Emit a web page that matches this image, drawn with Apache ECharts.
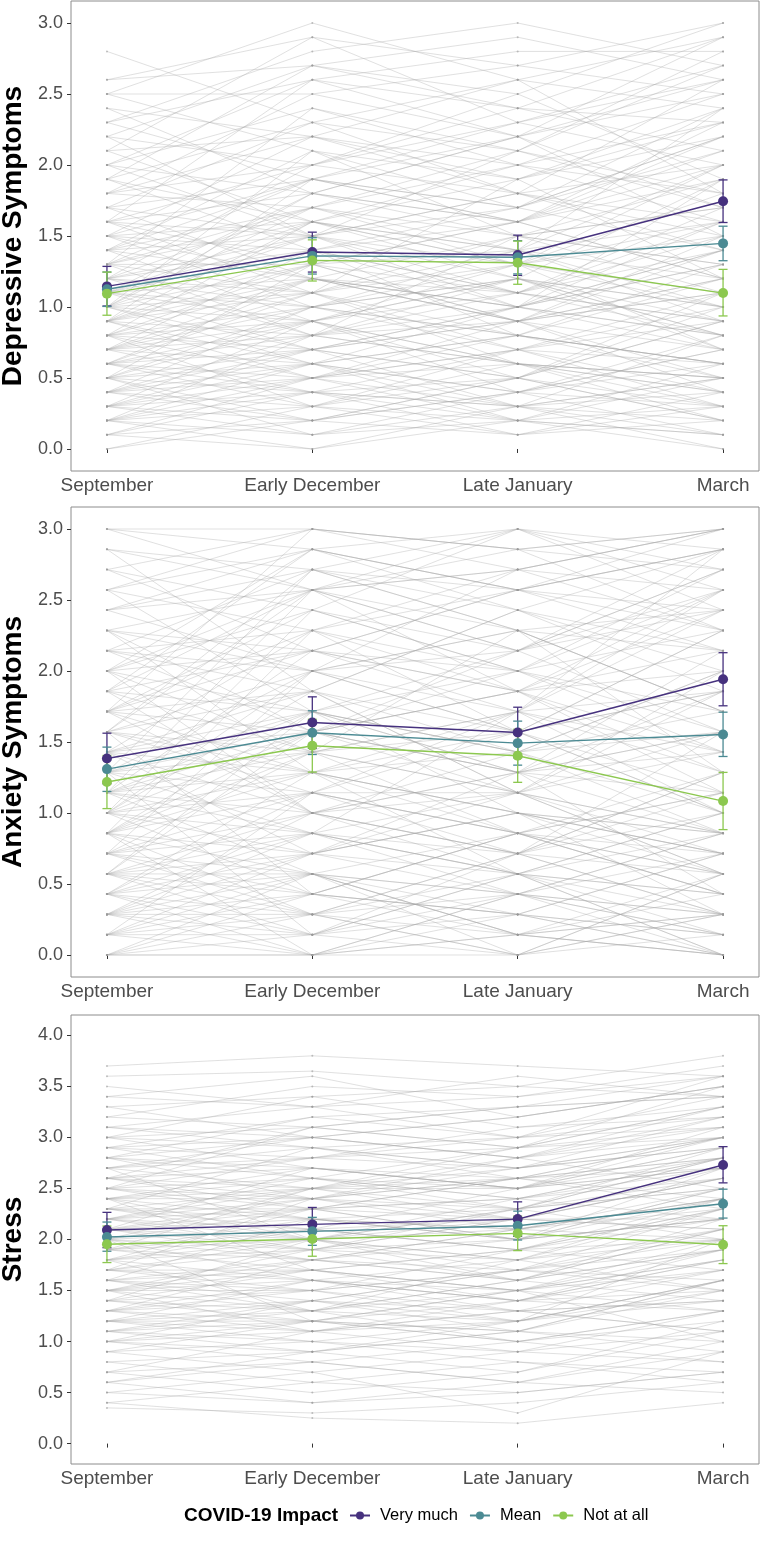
<!DOCTYPE html>
<html>
<head>
<meta charset="utf-8">
<script src="https://cdn.jsdelivr.net/npm/echarts@6/dist/echarts.min.js"></script>
<style>
html,body{margin:0;padding:0;background:#fff;}
#chart{width:760px;height:1555px;}
</style>
</head>
<body>
<div id="chart"></div>
<script>
// ---------------- DATA ----------------
const timeLabels = ['September', 'Early December', 'Late January', 'March'];
const timePos = [1, 2, 3, 4];
const groups = ['Very much', 'Mean', 'Not at all'];
const symptomTicks = [0, 0.5, 1, 1.5, 2, 2.5, 3];
const stressTicks = [0, 0.5, 1, 1.5, 2, 2.5, 3, 3.5, 4];

// individual trajectories (Sep, Dec, Jan, Mar)
const depIndividuals = [
[0.0,0.3,0.1,0.2],[0.1,0.0,0.2,0.1],[0.1,0.4,0.3,0.5],[0.2,0.1,0.4,0.3],[0.2,0.5,0.6,0.2],
[0.3,0.2,0.1,0.4],[0.3,0.7,0.5,0.9],[0.3,0.6,0.8,0.6],[0.4,0.3,0.2,0.1],[0.4,0.8,0.6,0.5],
[0.4,1.0,1.2,0.8],[0.5,0.4,0.7,0.3],[0.5,0.9,0.5,1.1],[0.5,0.2,0.4,0.7],[0.6,0.5,0.9,0.4],
[0.6,1.1,0.8,1.3],[0.6,0.3,0.6,0.5],[0.7,1.4,1.1,0.9],[0.7,0.6,0.4,0.8],[0.7,0.9,1.3,1.6],
[0.8,0.5,0.7,0.6],[0.8,1.2,1.0,1.4],[0.8,1.6,1.9,1.2],[0.8,0.7,0.3,0.5],[0.9,1.3,0.9,0.7],
[0.9,0.8,1.5,1.9],[0.9,1.9,1.6,2.1],[1.0,1.5,1.2,1.0],[1.0,0.7,0.9,1.2],[1.0,2.1,1.7,2.4],
[1.0,1.3,1.4,0.9],[1.1,0.9,1.1,1.5],[1.1,1.8,2.2,1.7],[1.1,1.4,0.8,0.6],[1.2,1.0,1.3,1.8],
[1.2,2.0,1.8,2.6],[1.2,0.8,0.6,0.4],[1.3,1.7,1.5,1.1],[1.3,1.1,1.9,2.2],[1.3,2.4,2.0,1.6],
[1.4,1.2,1.0,1.3],[1.4,1.9,2.3,2.7],[1.4,0.9,1.2,0.8],[1.5,1.6,1.4,2.0],[1.5,2.2,2.6,1.8],
[1.5,1.0,0.7,1.1],[1.6,1.8,1.6,2.3],[1.6,1.3,1.1,0.9],[1.6,2.6,2.4,2.9],[1.7,1.5,2.1,1.7],
[1.7,2.3,1.8,1.4],[1.8,1.7,1.3,2.0],[1.8,2.5,2.7,2.5],[1.9,1.4,1.6,1.2],[1.9,2.7,2.5,3.0],
[2.0,1.8,2.2,1.5],[2.0,2.6,2.8,2.8],[2.1,1.6,1.4,2.4],[2.1,2.9,2.3,2.6],[2.2,2.0,2.5,1.9],
[2.2,1.5,1.0,1.3],[2.3,2.8,3.0,2.7],[2.3,1.9,1.7,2.2],[2.4,2.2,2.0,2.5],[2.5,3.0,2.6,2.9],
[2.5,2.1,1.5,1.7],[2.6,2.7,2.9,2.6],[2.8,2.3,2.1,2.8],[0.2,0.0,0.3,0.0],[0.5,0.6,0.2,0.3],
[0.6,0.8,1.0,0.7],[0.7,0.4,0.5,0.2],[0.9,1.1,0.7,1.0],[1.0,0.6,1.0,1.4],[1.1,1.5,1.8,1.5],
[1.2,1.4,1.7,2.1],[0.3,0.9,0.4,0.6],[0.4,0.2,0.5,0.9],[0.8,1.0,1.4,1.0],[1.3,1.6,1.2,1.9],
[1.5,1.2,0.9,0.5],[0.6,1.2,1.1,1.6],[0.9,0.5,0.3,0.4],[1.4,2.1,1.9,2.3],[1.8,2.0,2.4,2.1],
[0.2,0.8,0.9,1.4],[1.6,1.1,1.3,0.7],[0.5,1.3,1.6,1.2],[1.0,1.7,2.1,1.8],[0.7,1.1,0.6,0.3],
[0.1,0.2,0.5,0.3],[0.2,0.6,0.3,0.1],[0.3,0.1,0.2,0.0],[0.4,0.7,0.9,1.1],[0.5,1.0,0.8,0.6],
[0.6,0.4,0.3,0.8],[0.7,1.2,1.5,1.3],[0.8,0.3,0.5,0.2],[0.9,1.4,1.1,1.7],[1.0,0.9,0.6,0.5],
[1.1,1.6,1.3,1.0],[1.2,1.7,2.0,2.3],[1.3,0.8,1.1,1.4],[1.4,1.5,1.8,1.6],[1.5,1.9,1.6,2.2],
[1.6,2.0,2.3,2.0],[1.7,1.2,0.9,1.5],[1.8,2.2,1.9,2.4],[1.9,1.6,2.0,1.8],[2.0,2.4,2.1,2.7],
[2.1,2.2,1.8,2.0],[2.2,2.7,2.4,2.3],[2.4,1.8,1.6,1.9],[2.5,2.5,2.2,2.6],[2.6,2.9,2.7,3.0],
[0.0,0.2,0.4,0.1],[0.1,0.5,0.2,0.6],[0.2,0.3,0.7,0.4],[0.3,0.4,0.1,0.3],[0.4,0.6,0.4,0.7],
[0.5,0.7,1.0,0.8],[0.6,0.9,0.6,0.4],[0.7,0.8,1.2,1.0],[0.8,1.3,0.9,1.1],[0.9,0.6,0.8,0.6],
[1.0,1.1,1.5,1.7],[1.1,1.2,0.9,1.2],[1.2,1.5,1.1,0.8],[1.3,1.3,1.6,2.0],[1.4,1.7,1.4,1.2],
[0.2,0.4,0.2,0.5],[0.3,0.5,0.7,0.9],[0.5,0.1,0.3,0.2],[0.7,1.0,0.8,1.2],[0.9,1.6,1.3,1.5],
[1.1,1.0,1.2,0.7],[1.3,1.9,2.2,2.5],[1.5,1.4,1.0,1.6],[1.7,1.9,1.7,2.2],[1.9,2.3,2.6,2.4],
[2.0,1.5,1.3,1.1],[2.3,2.6,2.2,2.9],[0.4,0.5,0.8,0.5],[0.6,0.7,0.5,1.0],[0.8,0.9,1.2,0.9],
[1.0,1.8,1.5,1.3],[1.2,1.1,1.4,1.6],[1.6,1.5,1.7,1.4],[0.9,1.2,1.0,0.8],[1.1,0.7,1.0,1.9]
];
const anxIndividuals = [
[0,0,0.143,0],[0,0.286,0,0.143],[0,0.571,0.286,0],[0.143,0,0.429,0.286],[0.143,0.714,0.571,0.429],
[0.286,0.143,0,0.571],[0.286,1,0.714,0.286],[0.286,0.429,0.857,1.143],[0.429,0.286,0.143,0],[0.429,1.286,1,0.714],
[0.571,0.571,0.429,0.857],[0.571,1.571,1.286,0.429],[0.571,0.143,0.571,1],[0.714,0.857,1.143,0.571],[0.714,2,1.571,2.286],
[0.714,0.429,0.286,0.143],[0.857,1.143,0.857,1.286],[0.857,0.286,0.714,0.286],[0.857,1.714,2.143,1.571],[1,0.714,1,0.714],
[1,1.857,1.429,2],[1,1.286,0.571,0],[1,2.429,2,2.714],[1.143,1,1.286,1.429],[1.143,0.571,0.143,0.571],
[1.143,2.143,2.571,3],[1.286,1.429,1.143,0.857],[1.286,0.857,1.714,1.857],[1.286,2.714,2.286,1.714],[1.429,1.571,1.857,2.143],
[1.429,0.714,0.429,0.286],[1.429,2.286,2.714,2.571],[1.571,1.143,1.571,1.143],[1.571,2.571,1.857,2.429],[1.571,0.429,0.857,0.714],
[1.714,1.857,2.429,2.857],[1.714,1.286,1,0.571],[1.714,3,2.857,2.286],[1.857,1.714,1.286,1.571],[1.857,2.143,2,2.571],
[2,1.429,1.714,1],[2,2.857,3,2.714],[2,1,0.714,1.286],[2.143,2.286,1.571,1.857],[2.143,1.571,2.143,2.429],
[2.286,2.571,2.857,3],[2.286,1.286,0.857,0.429],[2.429,2,2.286,1.714],[2.429,2.857,2.571,2.286],[2.571,1.714,1.429,2],
[2.571,3,2.714,3],[2.714,2.429,2,1.571],[2.714,2.143,2.571,2.857],[2.857,2.714,3,2.571],[2.857,1.857,1.143,0.857],
[3,2.571,2.143,2.714],[3,3,2.857,3],[0.143,0.429,0.286,0.714],[0.286,0.714,1.143,0.571],[0.429,0,0.286,0.143],
[0.571,1,1.429,1.714],[0.714,1.429,0.857,0.429],[0.857,0.571,0,0.286],[1,1.571,1.857,1.143],[1.143,1.714,1.286,2.143],
[1.286,2,1.571,1],[0,0.143,0.571,0.857],[0.143,1.143,0.714,1.286],[0.429,0.857,0.571,0],[0.571,0.286,0.714,0.571],
[0.714,1.143,1.714,1.429],[0.857,2.286,1.857,2.571],[1,0.429,0.286,0.714],[1.143,1.286,1,0.286],[1.286,0.143,0.429,0],
[1.429,1,1.286,1.571],[1.571,2.714,2.429,1.857],[1.714,2.429,3,2.429],[1.857,1,0.571,0.143],[2,2.143,1.714,2.857],
[0.286,0,0.143,0.429],[0.857,1.429,2.286,1.286],[1.571,1.857,1.143,0.714],[2.143,2.714,2.286,2.143],[0.429,0.714,1,0.857],
[0,0.429,0.143,0.286],[0.143,0.286,0,0.571],[0.286,0.571,0.429,0.143],[0.429,0.143,0.714,1],[0.571,0.857,0.571,0.286],
[0.714,0.286,0.429,0.857],[0.857,1.286,1.571,1],[1,0.857,0.714,1.571],[1.143,1.571,2,1.714],[1.286,1.143,0.857,0.571],
[1.429,1.857,1.571,2.286],[1.571,1.286,1.714,1.286],[1.714,2.143,1.857,2],[1.857,1.429,1.571,1.857],[2,2.571,2.286,2.429],
[2.143,1.857,2.429,2],[2.286,2.143,1.857,1.429],[2.429,2.714,2.571,2.857],[2.571,2.286,2,2.286],[2.714,3,2.857,2.714],
[0,0,0,0.286],[0.143,0.143,0.286,0],[0.286,0.286,0.571,0.429],[0.429,0.571,0.143,0.286],[0.571,0.714,1,0.714],
[0.714,1,0.714,1.143],[0.857,0.714,1.286,0.857],[1,1.143,1.143,1.857],[1.143,0.857,0.429,0.714],[1.286,1.714,2,1.429],
[1.429,1.286,1.429,1],[1.571,2,2.143,2.714],[1.714,1.571,1.286,1.857],[1.857,2.571,2.714,2.286],[2,1.714,1.429,1.571],
[0.286,0.857,0.571,1],[0.571,0.429,0.857,0.429],[0.857,1.571,1.143,1.571],[1.143,1.429,1.714,2.429],[1.429,1.714,1,0.857],
[1.714,2.286,2.571,2.143],[2,2.429,2.143,2.571],[2.286,2,2.714,3],[2.571,2.857,2.429,2.143],[0.143,0.571,0.857,0.571],
[0.429,1.143,0.857,1.143],[0.714,0.571,0.143,0],[1,2,2.286,1.714],[1.286,1.571,1.857,1.286],[1.571,1.429,1.143,2],
[1.857,2.857,2.571,2.429],[2.143,2,1.714,2.571],[2.429,2.571,3,2.857],[0.571,1.714,1.429,0.857],[0.857,0,0.429,0.143],
[1.143,2.571,2.143,2.857],[1.714,1,1.143,1.429],[2.286,1.571,1.286,1.143],[2.857,2.571,2.714,3],[3,2.857,2.571,2.857]
];
const stressIndividuals = [
[0.35,0.3,0.4,0.6],[0.4,0.25,0.2,0.4],[0.5,0.7,0.3,0.9],[0.6,0.4,0.6,0.5],[0.7,1.1,0.9,1.3],
[0.8,0.6,0.5,0.7],[0.9,1.2,1.4,1.8],[1.0,0.8,0.6,1.0],[1.0,1.4,1.7,1.5],[1.1,0.9,1.2,2.0],
[1.2,1.6,1.3,1.1],[1.2,1.0,0.8,0.6],[1.3,1.8,2.1,2.4],[1.3,1.2,1.0,1.2],[1.4,1.5,1.9,1.7],
[1.4,2.0,1.6,2.2],[1.5,1.1,1.3,1.4],[1.5,1.9,2.3,2.8],[1.6,1.4,1.1,1.6],[1.6,2.2,2.0,2.5],
[1.7,1.7,1.5,1.9],[1.7,2.4,2.6,3.0],[1.8,1.3,1.0,1.3],[1.8,2.1,2.2,2.6],[1.9,1.8,1.7,2.1],
[1.9,2.5,2.8,3.2],[2.0,1.6,1.4,1.8],[2.0,2.3,2.4,2.7],[2.0,1.2,1.5,1.0],[2.1,2.0,2.1,2.4],
[2.1,2.7,2.5,3.1],[2.2,1.9,1.8,1.5],[2.2,2.4,2.7,2.9],[2.3,2.1,1.9,2.3],[2.3,2.9,3.0,3.4],
[2.4,2.2,2.3,2.0],[2.4,1.7,1.4,1.7],[2.5,2.6,2.4,2.8],[2.5,3.1,2.9,3.5],[2.6,2.3,2.0,2.2],
[2.6,2.8,3.1,3.3],[2.7,2.5,2.6,2.4],[2.7,2.0,1.7,1.9],[2.8,3.0,2.8,3.0],[2.8,2.4,2.2,2.6],
[2.9,3.2,3.3,3.6],[3.0,2.7,2.5,2.7],[3.0,3.4,3.1,3.2],[3.1,2.9,2.7,3.0],[3.2,3.5,3.4,3.7],
[3.3,3.0,2.8,2.5],[3.4,3.6,3.2,3.5],[3.5,3.3,3.0,3.1],[3.6,3.65,3.5,3.8],[3.7,3.8,3.7,3.6],
[0.9,0.7,0.9,0.8],[1.1,1.3,1.6,1.4],[1.3,1.5,1.2,1.6],[1.5,1.3,1.8,2.3],[1.6,1.8,2.1,2.0],
[1.7,1.5,1.3,1.1],[1.9,2.1,2.5,2.9],[2.1,1.8,1.6,2.1],[2.2,2.6,2.3,2.5],[2.3,2.5,2.9,3.1],
[2.4,2.7,2.5,2.8],[2.5,2.2,2.1,2.3],[2.6,3.1,3.3,3.4],[2.9,2.6,2.4,2.2],[1.2,1.1,1.4,1.9],
[0.7,0.5,0.7,1.1],[1.4,1.2,1.1,1.0],[1.8,2.3,2.0,2.7],[2.0,2.5,2.7,3.0],[2.2,2.0,2.2,2.1],
[1.0,1.2,1.5,1.3],[1.5,1.7,1.9,2.2],[2.7,3.0,2.8,3.3],[3.1,3.3,3.6,3.4],[0.6,0.9,1.1,0.9],
[1.1,1.4,1.2,1.6],[2.4,2.0,1.8,2.4],[2.8,3.2,3.0,3.6],[1.7,2.0,2.3,2.6],[2.1,2.2,2.0,2.5],
[0.5,0.4,0.5,0.7],[0.8,0.9,0.7,1.2],[1.0,1.1,1.3,1.7],[1.1,1.0,0.9,1.1],[1.2,1.3,1.5,1.8],
[1.3,1.1,1.2,1.5],[1.4,1.7,1.5,2.0],[1.5,1.6,1.4,1.3],[1.6,1.5,1.7,2.3],[1.7,1.9,2.0,2.2],
[1.8,1.6,1.5,1.7],[1.9,2.2,2.0,2.4],[2.0,1.9,2.2,2.6],[2.1,2.4,2.3,2.9],[2.2,2.1,1.9,2.0],
[2.3,2.3,2.6,2.8],[2.4,2.5,2.2,2.7],[2.5,2.4,2.6,3.0],[2.6,2.5,2.3,2.5],[2.7,2.9,2.7,3.2],
[2.8,2.6,2.5,2.9],[2.9,3.0,3.2,3.5],[3.0,2.9,2.6,2.8],[3.2,3.1,3.3,3.4],[3.4,3.3,3.4,3.6],
[0.6,0.8,0.6,0.9],[0.9,1.0,1.2,1.4],[1.1,1.2,1.0,1.3],[1.2,1.4,1.7,2.0],[1.4,1.3,1.2,1.6],
[1.5,1.8,1.6,1.9],[1.6,1.7,1.9,2.4],[1.7,1.6,1.4,1.5],[1.8,2.0,2.4,2.8],[1.9,1.7,1.5,1.8],
[2.0,2.1,1.9,2.3],[2.1,1.9,2.2,2.2],[2.2,2.5,2.5,3.0],[2.3,2.2,2.1,2.4],[2.4,2.6,2.9,3.3],
[2.5,2.3,2.2,2.1],[2.6,2.7,2.5,2.7],[2.7,2.8,3.0,3.2],[2.8,2.7,2.6,2.3],[2.9,2.8,2.9,3.0],
[3.0,3.1,2.9,3.3],[3.1,3.0,3.2,3.5],[3.3,3.4,3.5,3.4],[1.0,0.9,1.1,1.6],[1.3,1.4,1.3,1.4],
[1.6,1.3,1.6,1.9],[1.9,2.0,1.8,2.0],[2.2,2.3,2.4,2.6],[2.5,2.8,2.7,2.9],[0.4,0.6,0.8,0.7],
[0.7,0.8,1.0,0.8],[1.2,1.2,1.1,1.5],[1.8,1.9,1.6,2.1],[2.1,2.3,2.6,2.7],[2.4,2.4,2.1,2.5],
[2.6,2.4,2.8,3.1],[2.0,1.8,2.0,2.2],[1.5,1.5,1.7,1.6],[1.3,1.6,1.8,2.1],[2.3,2.0,2.3,2.8]
];

// group means with error bar limits (Sep, Dec, Jan, Mar)
const depVeryMuch = [1.145, 1.387, 1.366, 1.745];
const depVeryMuchLow = [1.007, 1.246, 1.223, 1.595];
const depVeryMuchHigh = [1.286, 1.527, 1.506, 1.895];
const depMean = [1.125, 1.360, 1.350, 1.448];
const depMeanLow = [1.004, 1.232, 1.233, 1.326];
const depMeanHigh = [1.246, 1.488, 1.467, 1.569];
const depNotAtAll = [1.094, 1.328, 1.312, 1.098];
const depNotAtAllLow = [0.942, 1.183, 1.160, 0.937];
const depNotAtAllHigh = [1.246, 1.473, 1.464, 1.265];

const anxVeryMuch = [1.384, 1.637, 1.567, 1.942];
const anxVeryMuchLow = [1.206, 1.456, 1.389, 1.755];
const anxVeryMuchHigh = [1.562, 1.818, 1.745, 2.129];
const anxMean = [1.309, 1.565, 1.492, 1.553];
const anxMeanLow = [1.152, 1.412, 1.337, 1.398];
const anxMeanHigh = [1.464, 1.720, 1.647, 1.710];
const anxNotAtAll = [1.218, 1.474, 1.403, 1.084];
const anxNotAtAllLow = [1.031, 1.288, 1.216, 0.883];
const anxNotAtAllHigh = [1.405, 1.660, 1.590, 1.286];

const stressVeryMuch = [2.093, 2.148, 2.200, 2.730];
const stressVeryMuchLow = [1.920, 1.982, 2.031, 2.555];
const stressVeryMuchHigh = [2.266, 2.314, 2.369, 2.910];
const stressMean = [2.024, 2.080, 2.135, 2.350];
const stressMeanLow = [1.885, 1.943, 1.995, 2.210];
const stressMeanHigh = [2.171, 2.217, 2.278, 2.493];
const stressNotAtAll = [1.953, 2.005, 2.060, 1.949];
const stressNotAtAllLow = [1.774, 1.836, 1.891, 1.764];
const stressNotAtAllHigh = [2.132, 2.174, 2.229, 2.135];

// ---------------- CHART ----------------
const colors = {'Very much': '#46317e', 'Mean': '#4b8a93', 'Not at all': '#8cc84f'};
const FONT = '"Liberation Sans", Arial, Helvetica, sans-serif';

const panels = [
  {name: 'Depressive Symptoms', ind: depIndividuals, min: -0.155, max: 3.155, ticks: symptomTicks,
   grid: {left: 71, top: 1, width: 688, height: 470},
   groups: [[depVeryMuch, depVeryMuchLow, depVeryMuchHigh], [depMean, depMeanLow, depMeanHigh], [depNotAtAll, depNotAtAllLow, depNotAtAllHigh]]},
  {name: 'Anxiety Symptoms', ind: anxIndividuals, min: -0.155, max: 3.155, ticks: symptomTicks,
   grid: {left: 71, top: 507, width: 688, height: 470},
   groups: [[anxVeryMuch, anxVeryMuchLow, anxVeryMuchHigh], [anxMean, anxMeanLow, anxMeanHigh], [anxNotAtAll, anxNotAtAllLow, anxNotAtAllHigh]]},
  {name: 'Stress', ind: stressIndividuals, min: -0.2, max: 4.2, ticks: stressTicks,
   grid: {left: 71, top: 1015, width: 688, height: 449},
   groups: [[stressVeryMuch, stressVeryMuchLow, stressVeryMuchHigh], [stressMean, stressMeanLow, stressMeanHigh], [stressNotAtAll, stressNotAtAllLow, stressNotAtAllHigh]]}
];

const grid = [], xAxis = [], yAxis = [], series = [];
panels.forEach((p, i) => {
  grid.push(Object.assign({show: true, borderColor: '#8c8c8c', borderWidth: 1, backgroundColor: 'transparent',
    containLabel: false, outerBoundsMode: 'none'}, p.grid));
  xAxis.push({
    type: 'value', gridIndex: i, min: 0.825, max: 4.175,
    axisLine: {show: false}, splitLine: {show: false},
    axisTick: {show: true, length: 4, customValues: timePos, lineStyle: {color: '#333', width: 1}},
    axisLabel: {customValues: timePos, formatter: v => timeLabels[Math.round(v) - 1], fontSize: 19, color: '#4d4d4d', fontFamily: FONT, margin: 5}
  });
  yAxis.push({
    type: 'value', gridIndex: i, min: p.min, max: p.max,
    name: p.name, nameLocation: 'middle', nameGap: 41, nameRotate: 90,
    nameTextStyle: {fontSize: 28, fontWeight: 'bold', color: '#000', fontFamily: FONT},
    axisLine: {show: false}, splitLine: {show: false},
    axisTick: {show: true, length: 4, customValues: p.ticks, lineStyle: {color: '#333', width: 1}},
    axisLabel: {customValues: p.ticks, formatter: v => v.toFixed(1), fontSize: 18, color: '#4d4d4d', fontFamily: FONT, margin: 8}
  });
  // individual trajectories
  series.push({
    type: 'lines', coordinateSystem: 'cartesian2d', xAxisIndex: i, yAxisIndex: i, polyline: true, silent: true,
    lineStyle: {color: '#a6a6a6', width: 0.7, opacity: 0.5},
    data: p.ind.map(r => ({coords: r.map((v, k) => [timePos[k], v])})),
    z: 1
  });
  series.push({
    type: 'scatter', xAxisIndex: i, yAxisIndex: i, silent: true, symbolSize: 2,
    itemStyle: {color: '#999', opacity: 0.6},
    data: p.ind.flatMap(r => r.map((v, k) => [timePos[k], v])),
    z: 2
  });
  p.groups.forEach((g, gi) => {
    const gname = groups[gi];
    const col = colors[gname];
    series.push({
      type: 'custom', xAxisIndex: i, yAxisIndex: i, silent: true, z: 3,
      data: timePos.map((x, k) => [x, g[1][k], g[2][k]]),
      renderItem: (params, api) => {
        const lo = api.coord([api.value(0), api.value(1)]);
        const hi = api.coord([api.value(0), api.value(2)]);
        const w = 4.5;
        return {type: 'group', children: [
          {type: 'line', shape: {x1: lo[0], y1: lo[1], x2: hi[0], y2: hi[1]}, style: {stroke: col, lineWidth: 1.3}},
          {type: 'line', shape: {x1: lo[0] - w, y1: lo[1], x2: lo[0] + w, y2: lo[1]}, style: {stroke: col, lineWidth: 1.3}},
          {type: 'line', shape: {x1: hi[0] - w, y1: hi[1], x2: hi[0] + w, y2: hi[1]}, style: {stroke: col, lineWidth: 1.3}}
        ]};
      }
    });
    series.push({
      type: 'line', name: gname, xAxisIndex: i, yAxisIndex: i, z: 4,
      data: timePos.map((x, k) => [x, g[0][k]]),
      symbol: 'circle', symbolSize: 10, showSymbol: true,
      lineStyle: {color: col, width: 1.4}, itemStyle: {color: col, borderWidth: 0},
      emphasis: {disabled: true}
    });
  });
});

const chart = echarts.init(document.getElementById('chart'), null, {renderer: 'canvas'});
chart.setOption({
  animation: false,
  backgroundColor: '#fff',
  textStyle: {fontFamily: FONT},
  title: {text: 'COVID-19 Impact', left: 184, top: 1506, padding: 0,
    textStyle: {fontSize: 19, fontWeight: 'bold', color: '#000', fontFamily: FONT}},
  legend: {
    data: groups, left: 349, top: 1507, padding: 0, itemWidth: 20, itemHeight: 10, itemGap: 11,
    textStyle: {fontSize: 16.5, color: '#000', fontFamily: FONT, padding: [0, 0, 0, 5]}
  },
  grid, xAxis, yAxis, series
});
</script>
</body>
</html>
